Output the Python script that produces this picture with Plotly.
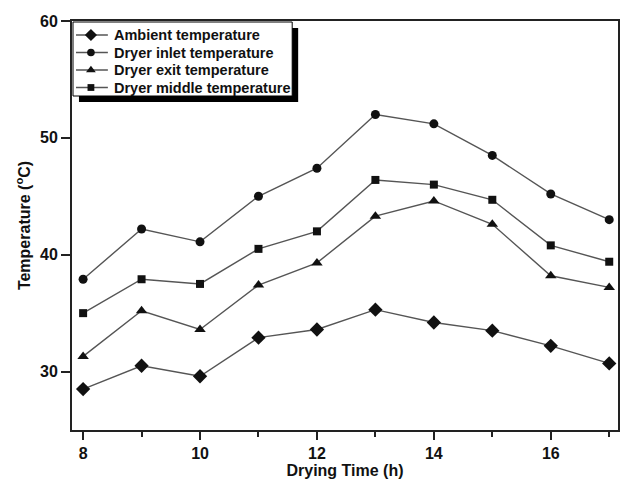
import plotly.graph_objects as go

# Drying time (hours of the day) and measured temperatures (°C)
hours = [8, 9, 10, 11, 12, 13, 14, 15, 16, 17]
ambient = [28.5, 30.5, 29.6, 32.9, 33.6, 35.3, 34.2, 33.5, 32.2, 30.7]
inlet = [37.9, 42.2, 41.1, 45.0, 47.4, 52.0, 51.2, 48.5, 45.2, 43.0]
exit_t = [31.3, 35.2, 33.6, 37.4, 39.3, 43.3, 44.6, 42.6, 38.2, 37.2]
middle = [35.0, 37.9, 37.5, 40.5, 42.0, 46.4, 46.0, 44.7, 40.8, 39.4]

series = [
    ("Ambient temperature", ambient, "diamond", 11),
    ("Dryer inlet temperature", inlet, "circle", 9),
    ("Dryer exit temperature", exit_t, "triangle-up", 10),
    ("Dryer middle temperature", middle, "square", 8),
]

FONT = "Liberation Sans, Arial, sans-serif"
LINE = dict(color="#555555", width=1.4)
INK = "#111111"

# plot area in pixels
W, H = 621, 479
L, R, T, B = 72, 1, 21, 49
PW, PH = W - L - R, H - T - B

fig = go.Figure()
for name, vals, sym, size in series:
    fig.add_trace(go.Scatter(
        x=hours, y=vals, name=name, mode="lines+markers",
        line=LINE, marker=dict(symbol=sym, size=size, color=INK),
        showlegend=False,
    ))

# boxed key with a drop shadow, laid out on a pixel-scaled overlay axis
box = dict(x0=1, x1=221, y0=1, y1=75)
shadow_off = (6, 6)
fig.add_shape(type="rect", xref="x2", yref="y2",
              x0=box["x0"] + shadow_off[0], x1=box["x1"] + shadow_off[0],
              y0=box["y0"] + shadow_off[1], y1=box["y1"] + shadow_off[1],
              fillcolor="black", line=dict(width=0), layer="below")
fig.add_shape(type="rect", xref="x2", yref="y2", **box,
              fillcolor="white", line=dict(color="black", width=1),
              layer="below")

row0, row_gap = 14, 17.5
key_x0, key_x1, key_mid, text_x = 4, 36, 19, 40
for i, (name, _, sym, size) in enumerate(series):
    ry = row0 + i * row_gap
    fig.add_trace(go.Scatter(
        x=[key_x0, key_mid, key_x1], y=[ry, ry, ry],
        xaxis="x2", yaxis="y2", mode="lines",
        line=LINE, showlegend=False, hoverinfo="skip",
    ))
    fig.add_trace(go.Scatter(
        x=[key_mid], y=[ry], xaxis="x2", yaxis="y2", mode="markers",
        marker=dict(symbol=sym, size=size * 0.85, color=INK),
        showlegend=False, hoverinfo="skip",
    ))
    fig.add_annotation(
        x=text_x, y=ry, xref="x2", yref="y2", text=name, showarrow=False,
        xanchor="left", yanchor="middle",
        font=dict(family=FONT, size=14.5, color=INK, weight="bold"),
    )

fig.update_layout(
    width=W, height=H,
    margin=dict(l=L, r=R, t=T, b=B),
    paper_bgcolor="white", plot_bgcolor="white",
    font=dict(family=FONT, color=INK),
    showlegend=False,
    xaxis=dict(
        range=[7.81, 17.15],
        tickvals=[8, 10, 12, 14, 16],
        ticks="outside", ticklen=8, tickwidth=1.8, tickcolor="#222",
        minor=dict(tickvals=[9, 11, 13, 15, 17], ticks="outside", ticklen=5,
                   tickwidth=1.8, tickcolor="#222"),
        showline=True, linecolor="#222", linewidth=1.8, mirror=True,
        showgrid=False, zeroline=False,
        tickfont=dict(family=FONT, size=16, weight="bold"),
        title=dict(text="Drying Time (h)", standoff=2,
                   font=dict(family=FONT, size=16, weight="bold")),
    ),
    yaxis=dict(
        range=[25, 60],
        tickvals=[30, 40, 50, 60],
        ticks="outside", ticklen=9, tickwidth=1.8, tickcolor="#222",
        showline=True, linecolor="#222", linewidth=1.8, mirror=True,
        showgrid=False, zeroline=False,
        tickfont=dict(family=FONT, size=16, weight="bold"),
        title=dict(text="Temperature (<sup>o</sup>C)", standoff=6,
                   font=dict(family=FONT, size=16, weight="bold")),
    ),
    xaxis2=dict(range=[0, PW], overlaying="x", anchor="y2", visible=False,
                fixedrange=True),
    yaxis2=dict(range=[PH, 0], overlaying="y", anchor="x2", visible=False,
                fixedrange=True),
)

fig.write_html("out.html")
